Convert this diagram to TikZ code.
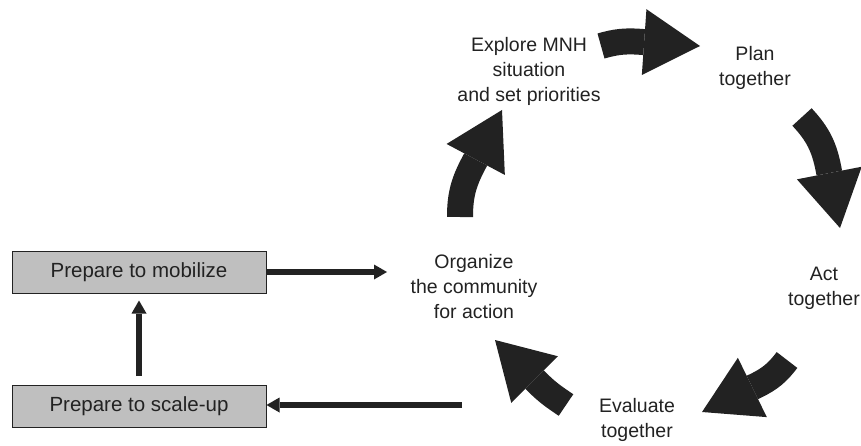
\documentclass[tikz,border=0pt]{standalone}
\usepackage{fontspec}
\setmainfont{Liberation Sans}
\usepackage{tikz}
\usetikzlibrary{arrows.meta, positioning, calc}
\usepackage{xcolor}
\definecolor{CycleBlack}{HTML}{222222}
\definecolor{BoxGray}{HTML}{BFBFBF}
\tikzset{
    prepbox/.style={
        draw=CycleBlack,
        fill=BoxGray,
        line width=1pt,
        minimum width=254pt,
        minimum height=42pt,
        text=CycleBlack,
        font=\fontsize{20.5}{25}\selectfont
    },
    stagetext/.style={
        text=CycleBlack,
        font=\fontsize{19.5}{25}\selectfont,
        align=center
    },
    arrow/.style={
        -{Triangle[length=13pt,width=15pt,line width=0pt]},
        line width=5.5pt,
        CycleBlack
    },
    bigarrow/.style={
        -{Triangle[length=56pt,width=66pt,line width=0pt]},
        line width=26pt,
        CycleBlack
    }
}
\begin{document}
\begin{tikzpicture}[x=1pt, y=1pt]
    \useasboundingbox (0,0) rectangle (861,445);

    % Preparation boxes
    \node[prepbox] (mobilize) at (139,173) {Prepare to mobilize};
    \node[prepbox] (scaleup) at (139,38.5) {Prepare to scale-up};

    % Cycle stages
    \node[stagetext] (explore) at (529,374) {Explore MNH\\situation\\and set priorities};
    \node[stagetext] (plan) at (755,377) {Plan\\together};
    \node[stagetext] (act) at (824,157) {Act\\together};
    \node[stagetext] (evaluate) at (637,25) {Evaluate\\together};
    \node[stagetext] (organize) at (474,158) {Organize\\the community\\for action};

    % Ends of the cycle arrows
    \coordinate (exploreout) at (601,399);
    \coordinate (planin) at (700,399);
    \coordinate (planout) at (802,328);
    \coordinate (actin) at (840,217);
    \coordinate (actout) at (787,85);
    \coordinate (evaluatein) at (702,33);
    \coordinate (evaluateout) at (566,40);
    \coordinate (organizein) at (495,105);
    \coordinate (organizeout) at (460,228);
    \coordinate (explorein) at (502,335);

    \draw[bigarrow] (exploreout) to[out=16, in=176] ($(planin)+(176:60)$) -- (planin);
    \draw[bigarrow] (planout) to[out=-47, in=101] ($(actin)+(101:60)$) -- (actin);
    \draw[bigarrow] (actout) to[out=233, in=26] ($(evaluatein)+(26:60)$) -- (evaluatein);
    \draw[bigarrow] (evaluateout) to[out=146, in=-45] ($(organizein)+(-45:60)$) -- (organizein);
    \draw[bigarrow] (organizeout) to[out=90, in=242] ($(explorein)+(242:60)$) -- (explorein);

    % Links to the preparation boxes
    \coordinate (mobilizeend) at (387,173);
    \coordinate (scaleupstart) at (462,40);

    \draw[arrow] (mobilize.east) -- (mobilizeend);
    \draw[arrow] (scaleupstart) -- (scaleupstart -| scaleup.east);
    \draw[arrow, shorten <=9pt, shorten >=7pt] (scaleup) -- (mobilize);
\end{tikzpicture}
\end{document}
